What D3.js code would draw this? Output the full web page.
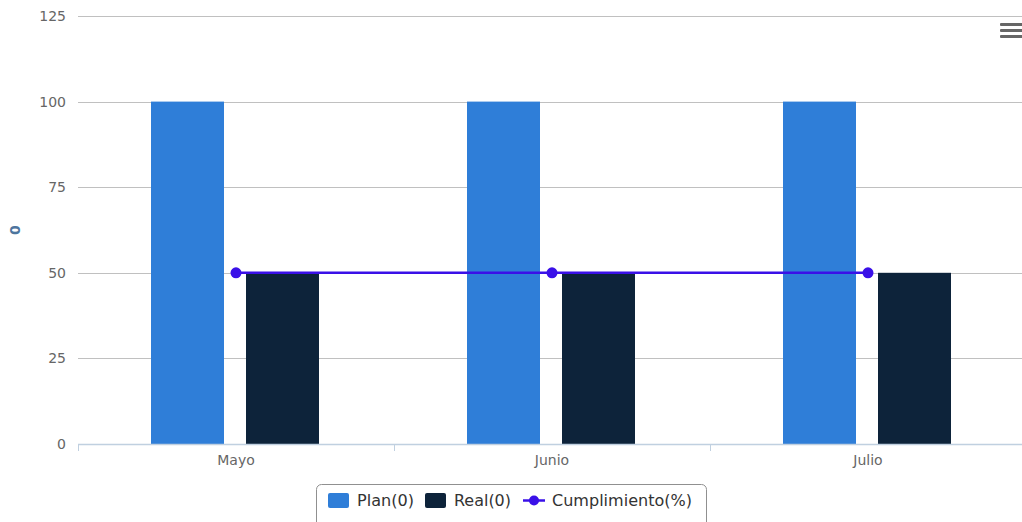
<!DOCTYPE html>
<html>
<head>
<script src="https://cdnjs.cloudflare.com/ajax/libs/d3/7.8.5/d3.min.js"></script>
<style>
  body { margin: 0; background: #fff; }
  text { font-family: "DejaVu Sans", Verdana, sans-serif; }
  .grid line { stroke: #c0c0c0; stroke-width: 1; }
  .axis text { fill: #666; font-size: 14px; }
</style>
</head>
<body>
<div id="chart"></div>
<script>
// data
const categories = ["Mayo", "Junio", "Julio"];
const plan = [100, 100, 100];
const real = [50, 50, 50];
const cumplimiento = [50, 50, 50];
const yTicks = [0, 25, 50, 75, 100, 125];
const legendLabels = ["Plan(0)", "Real(0)", "Cumplimiento(%)"];

const W = 1022, H = 522;
const margin = {top: 16, right: -4, bottom: 78, left: 78};
const width = W - margin.left - margin.right;
const height = H - margin.top - margin.bottom;

const colPlan = "#2f7ed8", colReal = "#0d233a", colLine = "#3a10e8";

const svg = d3.select("#chart").append("svg")
  .attr("width", W).attr("height", H);

const g = svg.append("g")
  .attr("transform", "translate(" + margin.left + "," + margin.top + ")");

const x = d3.scaleBand().domain(categories).range([0, width]);
const xInner = d3.scaleBand().domain(["plan", "real"])
  .range([73, x.bandwidth() - 75]).paddingInner(22 / 95);
const y = d3.scaleLinear().domain([0, 125]).range([height, 0]);

// gridlines
g.append("g").attr("class", "grid")
  .selectAll("line").data(yTicks.filter(d => d > 0)).enter().append("line")
  .attr("x1", 0).attr("x2", width)
  .attr("y1", d => Math.round(y(d)) + 0.5).attr("y2", d => Math.round(y(d)) + 0.5);

// y labels
g.append("g").attr("class", "axis")
  .selectAll("text").data(yTicks).enter().append("text")
  .attr("x", -12).attr("y", d => y(d) + 5)
  .attr("text-anchor", "end")
  .text(d => d);

// y title
svg.append("text")
  .attr("transform", "translate(20," + (margin.top + y(62.5)) + ") rotate(-90)")
  .attr("text-anchor", "middle")
  .attr("fill", "#4d759e").attr("font-weight", "bold").attr("font-size", 14)
  .text("0");

// bars
const grp = g.selectAll(".cat").data(categories).enter().append("g")
  .attr("transform", d => "translate(" + x(d) + ",0)");

grp.append("rect")
  .attr("x", xInner("plan")).attr("width", xInner.bandwidth())
  .attr("y", (d, i) => y(plan[i])).attr("height", (d, i) => height - y(plan[i]))
  .attr("fill", colPlan);

grp.append("rect")
  .attr("x", xInner("real")).attr("width", xInner.bandwidth())
  .attr("y", (d, i) => y(real[i])).attr("height", (d, i) => height - y(real[i]))
  .attr("fill", colReal);

// x axis
const xAxis = g.append("g").attr("class", "axis")
  .attr("transform", "translate(0," + height + ")");
xAxis.append("line").attr("x1", 0).attr("x2", width).attr("y1", 0.5).attr("y2", 0.5)
  .attr("stroke", "#c0d0e0").attr("stroke-width", 1.5);
xAxis.selectAll(".tick").data(d3.range(categories.length + 1)).enter().append("line")
  .attr("x1", i => x.step() * i + 0.5).attr("x2", i => x.step() * i + 0.5)
  .attr("y1", 0).attr("y2", 7).attr("stroke", "#c0d0e0");
xAxis.selectAll("text").data(categories).enter().append("text")
  .attr("x", d => x(d) + x.bandwidth() / 2).attr("y", 21)
  .attr("text-anchor", "middle")
  .text(d => d);

// line
const line = d3.line()
  .x((d, i) => x(categories[i]) + x.bandwidth() / 2)
  .y(d => y(d));
g.append("path").datum(cumplimiento)
  .attr("d", line).attr("fill", "none")
  .attr("stroke", colLine).attr("stroke-width", 2.5);
g.selectAll(".dot").data(cumplimiento).enter().append("circle")
  .attr("cx", (d, i) => x(categories[i]) + x.bandwidth() / 2)
  .attr("cy", d => y(d)).attr("r", 5.5).attr("fill", colLine);

// menu icon
const menu = svg.append("g");
[0, 6, 12].forEach(dy => {
  menu.append("rect").attr("x", 1000).attr("y", 23 + dy).attr("width", 24).attr("height", 3)
    .attr("rx", 1).attr("fill", "#666");
});

// legend
const lg = svg.append("g").attr("transform", "translate(316,484)");
lg.append("rect").attr("x", 0.5).attr("y", 0.5).attr("width", 390).attr("height", 45)
  .attr("rx", 5).attr("fill", "none").attr("stroke", "#909090");
const items = [
  {x: 12, label: legendLabels[0], type: "rect", color: colPlan},
  {x: 109, label: legendLabels[1], type: "rect", color: colReal},
  {x: 207, label: legendLabels[2], type: "line", color: colLine}
];
items.forEach(it => {
  if (it.type === "rect") {
    lg.append("rect").attr("x", it.x).attr("y", 9).attr("width", 21).attr("height", 15)
      .attr("rx", 2).attr("fill", it.color);
  } else {
    lg.append("line").attr("x1", it.x).attr("x2", it.x + 22).attr("y1", 16.5).attr("y2", 16.5)
      .attr("stroke", it.color).attr("stroke-width", 2.5);
    lg.append("circle").attr("cx", it.x + 11).attr("cy", 16.5).attr("r", 5).attr("fill", it.color);
  }
  lg.append("text").attr("x", it.x + 29).attr("y", 22)
    .attr("font-size", 15).attr("fill", "#333")
    .attr("textLength", it.label === "Cumplimiento(%)" ? 140 : 57)
    .attr("lengthAdjust", "spacingAndGlyphs")
    .text(it.label);
});
</script>
</body>
</html>
